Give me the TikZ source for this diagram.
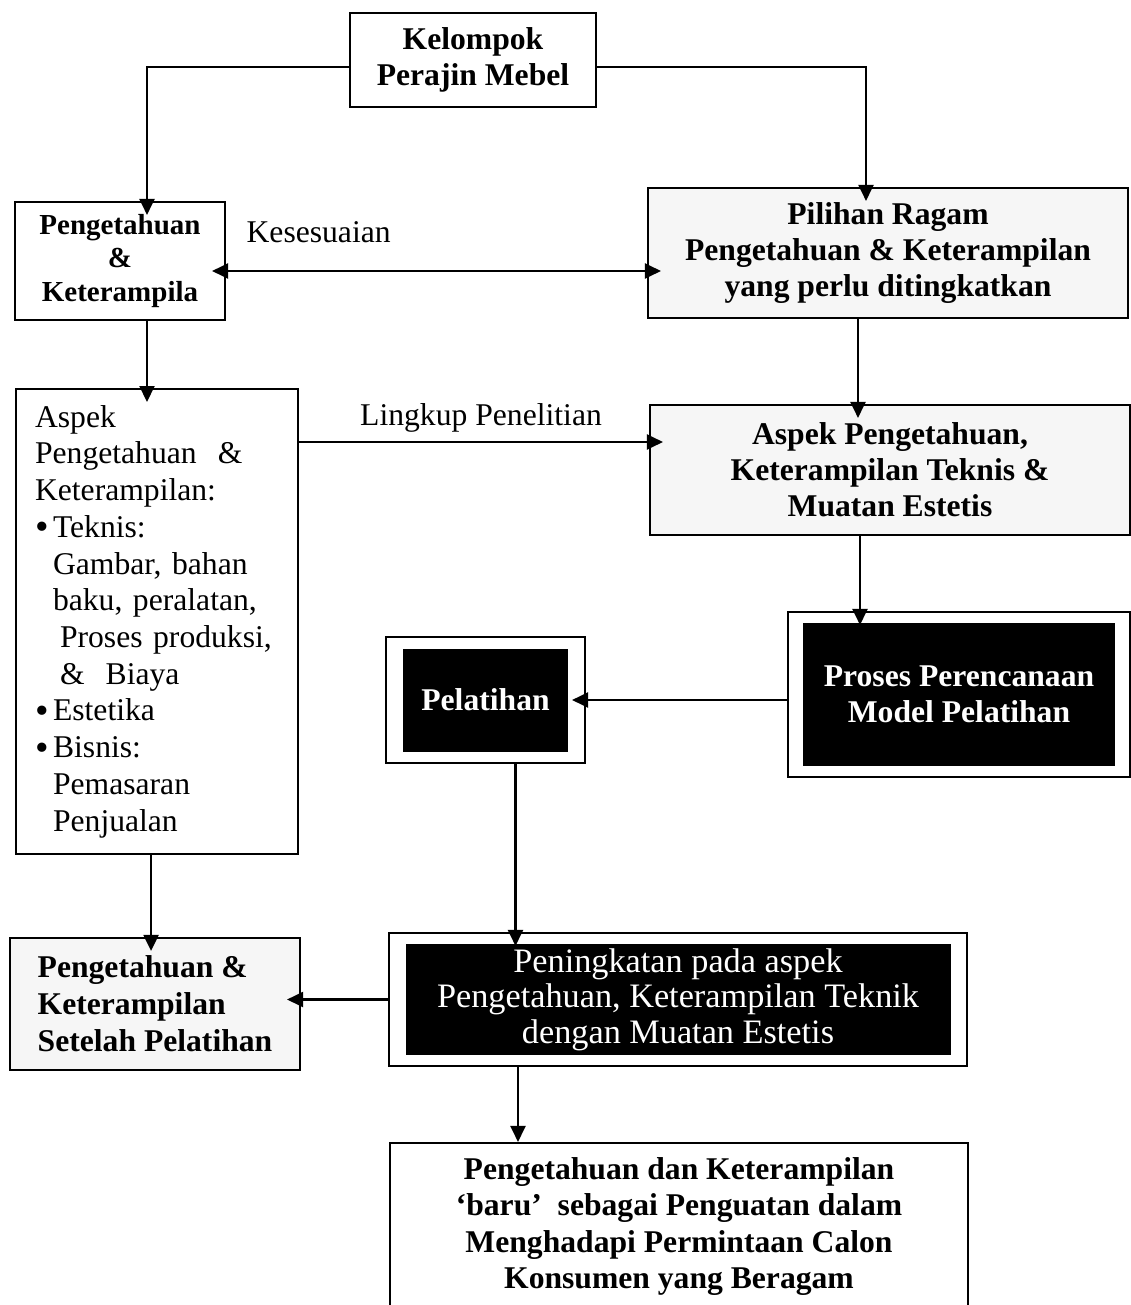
\documentclass[tikz,border=0pt]{standalone}
\usepackage{fontspec}
\setmainfont{Liberation Serif}
\usetikzlibrary{positioning,arrows.meta}

\newcommand{\listdot}{\makebox[0.36cm][l]{\raisebox{-0.05cm}{\fontsize{22}{20}\selectfont\textbullet}}}

\tikzset{
	>={Triangle[length=0.32cm,width=0.3cm]},
	box/.style={draw, line width=1.2pt, align=center, inner sep=0pt, font=\fontsize{18}{20.6}\selectfont\bfseries},
	shaded/.style={box, fill=gray!7},
	frame/.style={draw, line width=1.2pt, inner sep=0pt},
	darkbox/.style={fill=black, text=white, align=center, inner sep=0pt, font=\fontsize{18}{20.6}\selectfont\bfseries},
	arr/.style={->, line width=1.2pt, shorten >=-0.28cm},
	lbl/.style={font=\fontsize{18}{20.6}\selectfont, anchor=base, inner sep=0pt}
}

\begin{document}
\begin{tikzpicture}
	\useasboundingbox (0,0) rectangle (22.6,-26.1);

	\node[box, minimum width=4.92cm, minimum height=1.88cm] (kelompok) at (9.46,-1.2) {Kelompok\\Perajin Mebel};
	\node[box, minimum width=4.2cm, minimum height=2.36cm, font=\fontsize{16.5}{18.8}\selectfont\bfseries] (pengA) at (2.4,-5.22) {Pengetahuan\\\&\\Keterampila};
	\node[shaded, minimum width=9.6cm, minimum height=2.6cm] (pilihan) at (17.76,-5.06) {Pilihan Ragam\\Pengetahuan \& Keterampilan\\yang perlu ditingkatkan};
	\node[shaded, minimum width=9.6cm, minimum height=2.6cm] (aspek) at (17.8,-9.4) {Aspek Pengetahuan,\\Keterampilan Teknis \&\\Muatan Estetis};
	\node[box, font=\fontsize{18}{20.9}\selectfont, align=left, anchor=north west, minimum width=5.64cm, minimum height=9.3cm, text width=4.88cm, inner xsep=0.38cm] (aspekList) at (0.3,-7.76) {Aspek\\
		Pengetahuan~~\&\\
		Keterampilan:\\
		\listdot Teknis:\\
		\hspace*{0.36cm}Gambar, bahan\\
		\hspace*{0.36cm}baku, peralatan,\\
		\hspace*{0.5cm}Proses produksi,\\
		\hspace*{0.5cm}\&~~Biaya\\
		\listdot Estetika\\
		\listdot Bisnis:\\
		\hspace*{0.36cm}Pemasaran\\
		\hspace*{0.36cm}Penjualan};

	% double framed black boxes
	\node[frame, minimum width=6.84cm, minimum height=3.3cm] (prosesBox) at (19.18,-13.89) {};
	\node[darkbox, minimum width=6.24cm, minimum height=2.86cm] (proses) at (prosesBox.center) {Proses Perencanaan\\Model Pelatihan};
	\node[frame, minimum width=3.98cm, minimum height=2.52cm] (pelatihanBox) at (9.71,-14.0) {};
	\node[darkbox, minimum width=3.3cm, minimum height=2.06cm] (pelatihan) at (pelatihanBox.center) {Pelatihan};
	\node[frame, minimum width=11.56cm, minimum height=2.66cm] (peningBox) at (13.56,-19.99) {};
	\node[darkbox, minimum width=10.9cm, minimum height=2.22cm, font=\fontsize{19.5}{20.2}\selectfont] (pening) at (peningBox.center) {Peningkatan pada aspek\\Pengetahuan, Keterampilan Teknik\\dengan Muatan Estetis};

	\node[shaded, align=left, minimum width=5.8cm, minimum height=2.64cm, font=\fontsize{18}{21}\selectfont\bfseries] (setelah) at (3.1,-20.08) {Pengetahuan \&\\Keterampilan\\Setelah Pelatihan};
	\node[box, minimum width=11.56cm, minimum height=3.34cm] (baru) at (13.58,-24.53) {Pengetahuan dan Keterampilan\\‘baru’~ sebagai Penguatan dalam\\Menghadapi Permintaan Calon\\Konsumen yang Beragam};

	\draw[arr] ([yshift=-0.14cm]kelompok.west) -| ([xshift=0.54cm]pengA.north);
	\draw[arr] ([yshift=-0.14cm]kelompok.east) -| ([xshift=-0.44cm]pilihan.north);
	\draw[arr, <->, shorten <=-0.28cm] ([yshift=-0.2cm]pengA.east) -- ([yshift=-0.2cm]pengA.east -| pilihan.west) node[lbl, pos=0.22, yshift=0.56cm]{Kesesuaian};
	\draw[arr] ([xshift=0.54cm]pengA.south) -- ([xshift=0.54cm]pengA.south |- aspekList.north);
	\draw[arr] ([xshift=-0.6cm]pilihan.south) -- ([xshift=-0.6cm]pilihan.south |- aspek.north);
	\draw[arr] ([yshift=0.56cm]aspek.west -| aspekList.east) -- ([yshift=0.56cm]aspek.west) node[lbl, pos=0.52, yshift=0.34cm]{Lingkup Penelitian};
	\draw[arr] ([xshift=-0.6cm]aspek.south) -- ([xshift=-0.6cm]aspek.south |- prosesBox.north);
	\draw[arr] (pelatihanBox.east -| prosesBox.west) -- (pelatihanBox.east);
	\draw[arr] ([xshift=0.6cm]pelatihanBox.south) -- ([xshift=0.6cm]pelatihanBox.south |- peningBox.north);
	\draw[arr] ([xshift=-0.12cm]aspekList.south) -- ([xshift=-0.12cm]aspekList.south |- setelah.north);
	\draw[arr] (peningBox.west) -- (peningBox.west -| setelah.east);
	\draw[arr, shorten >=0pt] ([xshift=-3.2cm]peningBox.south) -- ([xshift=-3.2cm]peningBox.south |- baru.north);
\end{tikzpicture}
\end{document}
